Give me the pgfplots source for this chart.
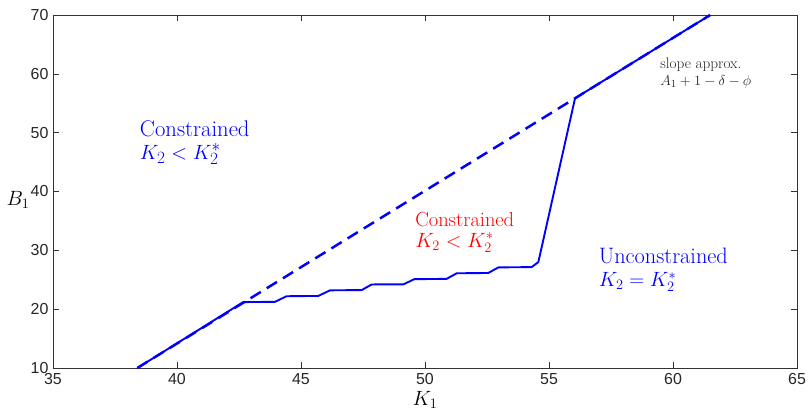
\documentclass[border=0pt]{standalone}
\usepackage{pgfplots}
\pgfplotsset{compat=1.18}
\usepackage{fontspec}
\newfontfamily\ticksf{Liberation Sans}
\begin{document}
\begin{tikzpicture}
\begin{axis}[
  at={(0,0)}, anchor=south west,
  scale only axis, width=744bp, height=353bp,
  xmin=35, xmax=65, ymin=10, ymax=70,
  xtick={35,40,...,65}, ytick={10,20,...,70},
  tick align=inside, major tick length=6bp,
  axis line style={black!80, line width=0.6pt},
  tick style={black!80, line width=0.6pt},
  /pgf/number format/assume math mode=true,
  tick label style={font=\ticksf\fontsize{16}{18}\selectfont, text=black!85},
  xticklabel style={yshift=-2bp},
  yticklabel style={xshift=-1bp},
  clip=false,
]
\addplot[blue, line width=2.5pt, dash pattern=on 12bp off 7bp] coordinates {(38.4,10) (61.5,70)};
\addplot[blue, line width=1.9pt, line join=round] coordinates {
(38.4,10) (42.67,21.2) (43.95,21.25) (44.42,22.2) (45.70,22.25) (46.17,23.2) (47.45,23.25)
(47.85,24.2) (49.13,24.22) (49.57,25.1) (50.87,25.15) (51.28,26.1) (52.55,26.15)
(52.96,27.1) (54.30,27.15) (54.57,28.0) (56.05,55.85) (61.5,70)};
\node[anchor=north west, align=left, blue, font=\fontsize{22.7}{23}\selectfont, inner sep=0] at (axis cs:38.5,52.1) {Constrained\\$K_2<K_2^*$};
\node[anchor=north west, align=left, red, font=\fontsize{20.5}{20.6}\selectfont, inner sep=0] at (axis cs:49.6,36.5) {Constrained\\$K_2<K_2^*$};
\node[anchor=north west, align=left, blue, font=\fontsize{22.4}{23.8}\selectfont, inner sep=0] at (axis cs:57.0,30.5) {Unconstrained\\$K_2=K_2^*$};
\node[anchor=north west, align=left, black!85, font=\fontsize{15.3}{17}\selectfont, inner sep=0] at (axis cs:59.48,62.8) {slope approx.\\$A_1+1-\delta-\phi$};
\node[font=\fontsize{20}{24}\selectfont] at (axis cs:50,10) [yshift=-32bp] {$K_1$};
\node[font=\fontsize{20}{24}\selectfont] at (axis cs:35,38.6) [xshift=-35bp] {$B_1$};
\end{axis}
\pgfresetboundingbox
\path[use as bounding box] (-53bp,-46bp) rectangle (756bp,368bp);
\end{tikzpicture}
\end{document}
